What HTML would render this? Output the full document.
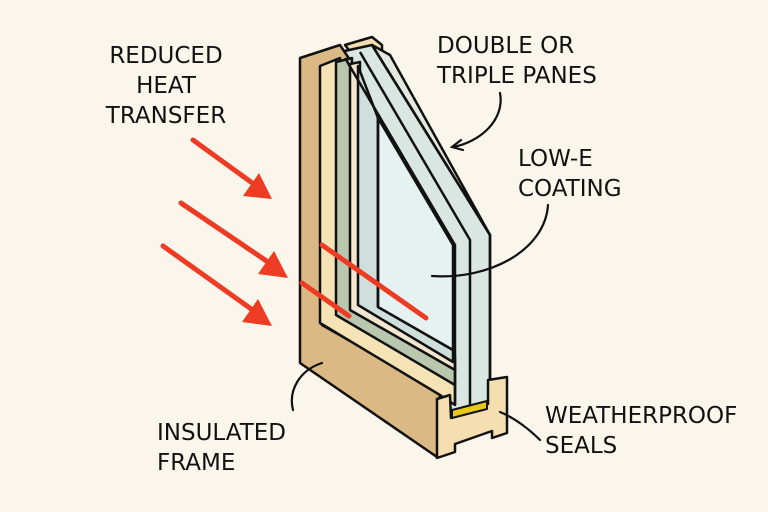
<!DOCTYPE html>
<html><head><meta charset="utf-8"><style>
html,body{margin:0;padding:0;background:#fbf6ec;}
svg{display:block;}
text{font-family:"DejaVu Sans","Liberation Sans",sans-serif;font-size:23px;fill:#111;}
</style></head><body>
<svg width="768" height="512" viewBox="0 0 768 512" xmlns="http://www.w3.org/2000/svg">
<rect width="768" height="512" fill="#fbf6ec"/>
<g stroke="#111" stroke-width="2.5" stroke-linejoin="round">
<polygon points="345,45 372,37 382,45 382,56 355,58" fill="#f3deb0"/>
<polygon points="340,52 372,45 490,235 490,410 455,415 378,360" fill="#d9e6e2"/>
<polygon points="372,45 390,55 490,235" fill="#e4e9e0"/>
<polygon points="300,58 340,45 350,60 322,66 322,325 440,392 437,457 300,363" fill="#dbb985"/>
<polygon points="320,66 340,58 340,310 455,380 455,405 440,395 320,323" fill="#f6e3b5"/>
<polygon points="336,62 352,58 352,305 455,368 455,385 336,315" fill="#b8c7ae"/>
<polygon points="350,64 360,62 360,300 455,357 455,370 350,310" fill="#f2e6d0"/>
<polygon points="358,66 378,118 378,307 453,350 453,362 358,305" fill="#cfe0dc"/>
<polygon points="378,118 453,245 453,350 378,307" fill="#e6f1f2"/>
<polyline points="345,58 455,245 455,405" fill="none"/>
<polyline points="360,52 470,240 470,405" fill="none"/>
<polyline points="372,45 490,235 490,410" fill="none"/>
<line x1="378" y1="118" x2="378" y2="307"/>
<polygon points="437,399 450,395 451,418 488,404 488,380 507,377 507,433 492,438 492,431 455,444 455,452 437,458" fill="#f5deb0"/>
<polygon points="452,410 487,401 487,409 452,418" fill="#e8c81a" stroke-width="2"/>
</g>
<g stroke="#ee3b24" stroke-width="5" stroke-linecap="round">
<line x1="322" y1="245" x2="426" y2="318"/>
<line x1="302" y1="283" x2="349" y2="316"/>
<line x1="193" y1="140" x2="255" y2="185"/>
<line x1="181" y1="203" x2="268" y2="262"/>
<line x1="163" y1="246" x2="254" y2="311"/>
</g>
<g fill="#ee3b24">
<polygon points="272,199 243,196 259,173"/>
<polygon points="288,278 258,274 274,251"/>
<polygon points="272,326 242,322 258,299"/>
</g>
<g fill="none" stroke="#111" stroke-width="2.2" stroke-linecap="round">
<path d="M500,93 C505,120 480,142 453,147"/>
<path d="M461,140 L452,147 L463,150"/>
<path d="M548,205 C545,250 490,280 432,276"/>
<path d="M293,410 C288,390 300,370 322,363"/>
<path d="M540,440 C530,430 515,418 500,412"/>
</g>
<text x="166" y="63" text-anchor="middle">REDUCED</text>
<text x="166" y="93" text-anchor="middle">HEAT</text>
<text x="166" y="123" text-anchor="middle">TRANSFER</text>
<text x="437" y="53">DOUBLE OR</text>
<text x="437" y="83">TRIPLE PANES</text>
<text x="518" y="166">LOW-E</text>
<text x="518" y="196">COATING</text>
<text x="157" y="440">INSULATED</text>
<text x="157" y="470">FRAME</text>
<text x="545" y="423">WEATHERPROOF</text>
<text x="545" y="453">SEALS</text>
</svg>
</body></html>
